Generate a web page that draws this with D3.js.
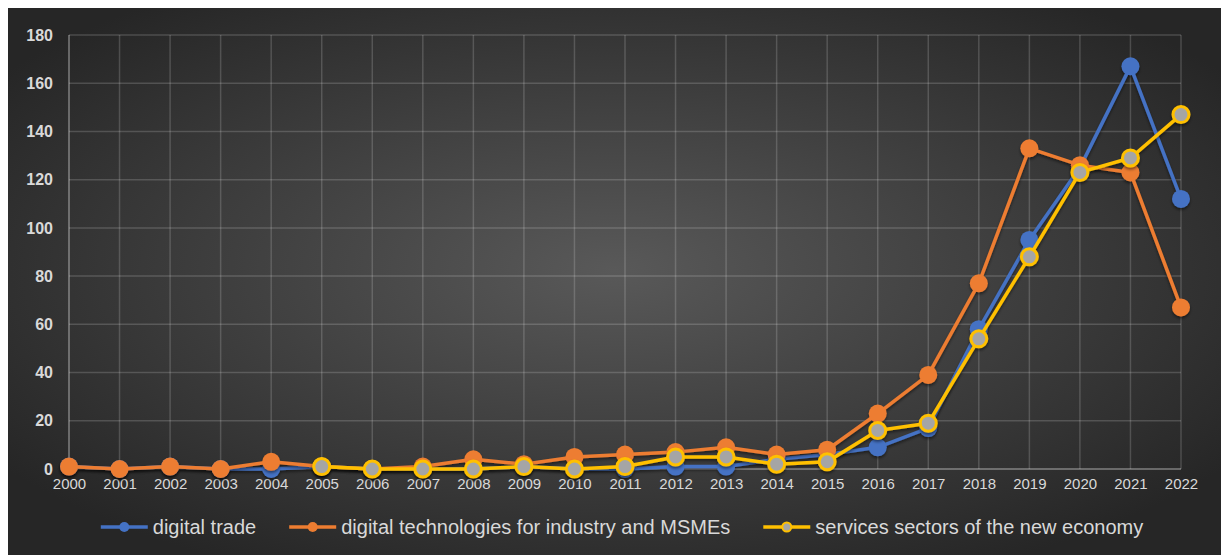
<!DOCTYPE html>
<html>
<head>
<meta charset="utf-8">
<script src="https://cdn.jsdelivr.net/npm/d3@7"></script>
<style>
  body { margin: 0; background: #ffffff; }
  svg { display: block; }
  text { font-family: "Liberation Sans", Arial, sans-serif; }
</style>
</head>
<body>
<svg id="chart" width="1221" height="555"></svg>
<script>

// chart values
var years = [2000, 2001, 2002, 2003, 2004, 2005, 2006, 2007, 2008, 2009, 2010, 2011,
	2012, 2013, 2014, 2015, 2016, 2017, 2018, 2019, 2020, 2021, 2022];

var digitalTrade = [1, 0, 1, 0, 0, 1, 0, 0, 0, 1, 0, 0, 1, 1, 4, 6, 9, 17, 58, 95, 125, 167, 112];

var digitalTech = [1, 0, 1, 0, 3, 1, 0, 1, 4, 2, 5, 6, 7, 9, 6, 8, 23, 39, 77, 133, 126, 123, 67];

// no values before 2005 for this series
var servicesNew = [null, null, null, null, null, 1, 0, 0, 0, 1, 0, 1, 5, 5, 2, 3, 16, 19, 54, 88, 123, 129, 147];

var seriesNames = ["digital trade", "digital technologies for industry and MSMEs",
	"services sectors of the new economy"];

var yTicks = [0, 20, 40, 60, 80, 100, 120, 140, 160, 180];

var svg = d3.select("#chart");

var width = 1221, height = 555;

var plot = { left: 69, right: 1181, top: 35, bottom: 469 };

// background panel with a soft radial light in the middle
var defs = svg.append("defs");

var grad = defs.append("radialGradient")
	.attr("id", "bg")
	.attr("cx", "50%").attr("cy", "48%")
	.attr("r", "62%");
grad.append("stop").attr("offset", "0%").attr("stop-color", "#595959");
grad.append("stop").attr("offset", "100%").attr("stop-color", "#262626");

var shadow = defs.append("filter")
	.attr("id", "shadow")
	.attr("x", "-50%").attr("y", "-50%")
	.attr("width", "200%").attr("height", "200%");
shadow.append("feDropShadow")
	.attr("dx", 0).attr("dy", 2)
	.attr("stdDeviation", 1.5)
	.attr("flood-color", "#000")
	.attr("flood-opacity", 0.5);

svg.append("rect")
	.attr("x", 8).attr("y", 8)
	.attr("width", width - 8).attr("height", height - 8)
	.attr("fill", "url(#bg)");

var x = d3.scalePoint()
	.domain(years)
	.range([plot.left, plot.right]);

var y = d3.scaleLinear()
	.domain([0, 180])
	.range([plot.bottom, plot.top]);

// grid
var grid = svg.append("g");

grid.selectAll("line.h")
	.data(yTicks.slice(1))
	.enter().append("line")
	.attr("x1", plot.left).attr("x2", plot.right)
	.attr("y1", function (d) { return y(d); })
	.attr("y2", function (d) { return y(d); })
	.attr("stroke", "rgba(255,255,255,0.17)")
	.attr("stroke-width", 1.5);

grid.selectAll("line.v")
	.data(years.slice(1))
	.enter().append("line")
	.attr("x1", function (d) { return x(d); })
	.attr("x2", function (d) { return x(d); })
	.attr("y1", plot.top).attr("y2", plot.bottom)
	.attr("stroke", "rgba(255,255,255,0.17)")
	.attr("stroke-width", 1.5);

// axis lines are a bit brighter
grid.append("line")
	.attr("x1", plot.left).attr("x2", plot.left)
	.attr("y1", plot.top).attr("y2", plot.bottom)
	.attr("stroke", "rgba(255,255,255,0.4)")
	.attr("stroke-width", 1.5);

grid.append("line")
	.attr("x1", plot.left).attr("x2", plot.right)
	.attr("y1", plot.bottom).attr("y2", plot.bottom)
	.attr("stroke", "rgba(255,255,255,0.4)")
	.attr("stroke-width", 1.5);

// axes, only the labels are kept
var yAxis = svg.append("g")
	.attr("transform", "translate(" + plot.left + ",0)")
	.call(d3.axisLeft(y).tickValues(yTicks).tickSize(0).tickPadding(16));

yAxis.select(".domain").remove();
yAxis.selectAll("text")
	.attr("fill", "#d9d9d9")
	.attr("font-size", 16)
	.attr("font-weight", "bold")
	.attr("font-family", "Liberation Sans, Arial, sans-serif");

var xAxis = svg.append("g")
	.attr("transform", "translate(0," + plot.bottom + ")")
	.call(d3.axisBottom(x).tickSize(0).tickPadding(9).tickFormat(d3.format("d")));

xAxis.select(".domain").remove();
xAxis.selectAll("text")
	.attr("fill", "#d9d9d9")
	.attr("font-size", 15)
	.attr("font-family", "Liberation Sans, Arial, sans-serif");

// series
var series = [
	{ name: seriesNames[0], values: digitalTrade, color: "#4472c4", fill: "#4472c4" },
	{ name: seriesNames[1], values: digitalTech, color: "#ed7d31", fill: "#ed7d31" },
	{ name: seriesNames[2], values: servicesNew, color: "#ffc000", fill: "#a5a5a5" }
];

var line = d3.line()
	.defined(function (d) { return d.v !== null; })
	.x(function (d) { return x(d.year); })
	.y(function (d) { return y(d.v); });

series.forEach(function (s) {

	var pts = years.map(function (yr, i) { return { year: yr, v: s.values[i] }; });

	var g = svg.append("g").attr("filter", "url(#shadow)");

	g.append("path")
		.datum(pts)
		.attr("fill", "none")
		.attr("stroke", s.color)
		.attr("stroke-width", 3.5)
		.attr("stroke-linejoin", "round")
		.attr("d", line);

	g.selectAll("circle")
		.data(pts.filter(function (d) { return d.v !== null; }))
		.enter().append("circle")
		.attr("cx", function (d) { return x(d.year); })
		.attr("cy", function (d) { return y(d.v); })
		.attr("r", s.fill === s.color ? 9 : 8)
		.attr("fill", s.fill)
		.attr("stroke", s.color)
		.attr("stroke-width", s.fill === s.color ? 0 : 3);
});

// legend, laid out from the text widths and centred under the plot
var legend = svg.append("g");
var legendY = 527, lineLen = 47, gap = 5, itemGap = 33;
var items = [];

series.forEach(function (s) {
	var item = legend.append("g");
	item.append("line")
		.attr("x1", 0).attr("x2", lineLen)
		.attr("y1", 0).attr("y2", 0)
		.attr("stroke", s.color)
		.attr("stroke-width", 3.5);
	item.append("circle")
		.attr("cx", lineLen / 2).attr("cy", 0)
		.attr("r", s.fill === s.color ? 5 : 4.5)
		.attr("fill", s.fill)
		.attr("stroke", s.color)
		.attr("stroke-width", s.fill === s.color ? 0 : 2);
	var t = item.append("text")
		.attr("x", lineLen + gap)
		.attr("y", 0)
		.attr("dy", "0.35em")
		.attr("fill", "#d9d9d9")
		.attr("font-size", 20)
		.text(s.name);
	items.push({ g: item, w: lineLen + gap + t.node().getComputedTextLength() });
});

var total = d3.sum(items, function (d) { return d.w; }) + itemGap * (items.length - 1);
var cx = 622 - total / 2;

items.forEach(function (it) {
	it.g.attr("transform", "translate(" + cx + "," + legendY + ")");
	cx += it.w + itemGap;
});

</script>
</body>
</html>
